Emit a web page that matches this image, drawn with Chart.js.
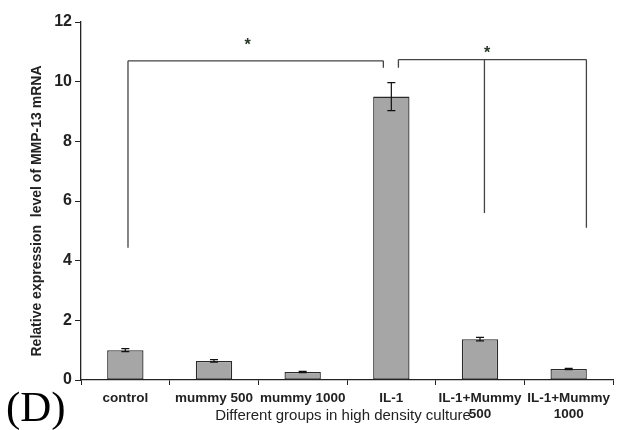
<!DOCTYPE html>
<html>
<head>
<meta charset="utf-8">
<script src="https://cdn.jsdelivr.net/npm/chart.js@4.4.1/dist/chart.umd.min.js"></script>
<style>
  html, body { margin: 0; padding: 0; background: #fff; }
  #wrap { width: 633px; height: 430px; }
</style>
</head>
<body>
<div id="wrap"><canvas id="mmpChart" width="633" height="430"></canvas></div>
<script>
// Data
const groups = ['control', 'mummy 500', 'mummy 1000', 'IL-1', ['IL-1+Mummy', '500'], ['IL-1+Mummy', '1000']];
const meanExpression = [1.0, 0.64, 0.27, 9.5, 1.37, 0.37];
const errorSD = [0.05, 0.04, 0.02, 0.47, 0.06, 0.02];
const yTickMax = 12;
const yTickStep = 2;

// Significance brackets (category index, value)
const bracketLeft = { top: 10.7, legs: [[0.03, 4.43], [2.91, 10.47]], star: [1.38, 11.3] };
const bracketRight = { top: 10.74, legs: [[3.08, 10.47], [4.05, 5.6], [5.2, 5.1]], star: [4.08, 11.04] };

const axisColor = '#222';

// category index (may be fractional) -> pixel
const xPix = (scale, v) => {
    const p0 = scale.getPixelForValue(0);
    const p1 = scale.getPixelForValue(1);
    return p0 + v * (p1 - p0);
};

// error bars, brackets, stars and free text
const extrasPlugin = {
    id: 'extras',
    afterDatasetsDraw(chart) {
        const ctx = chart.ctx;
        const x = chart.scales.x;
        const y = chart.scales.y;

        // error bars
        ctx.save();
        ctx.strokeStyle = '#111';
        ctx.lineWidth = 1.2;
        meanExpression.forEach((m, i) => {
            const cx = x.getPixelForValue(i);
            const yt = y.getPixelForValue(m + errorSD[i]);
            const yb = y.getPixelForValue(m - errorSD[i]);
            ctx.beginPath();
            ctx.moveTo(cx, yt); ctx.lineTo(cx, yb);
            ctx.moveTo(cx - 4, yt); ctx.lineTo(cx + 4, yt);
            ctx.moveTo(cx - 4, yb); ctx.lineTo(cx + 4, yb);
            ctx.stroke();
        });
        ctx.restore();

        // brackets
        ctx.save();
        ctx.strokeStyle = '#444';
        ctx.lineWidth = 1.3;
        [bracketLeft, bracketRight].forEach(b => {
            const yTop = y.getPixelForValue(b.top);
            const xs = b.legs.map(l => xPix(x, l[0]));
            ctx.beginPath();
            ctx.moveTo(Math.min(...xs), yTop);
            ctx.lineTo(Math.max(...xs), yTop);
            b.legs.forEach(l => {
                const lx = xPix(x, l[0]);
                ctx.moveTo(lx, yTop);
                ctx.lineTo(lx, y.getPixelForValue(l[1]));
            });
            ctx.stroke();
            // star
            ctx.fillStyle = '#263826';
            ctx.font = 'bold 16px "Liberation Sans", Arial, sans-serif';
            ctx.textAlign = 'center';
            ctx.textBaseline = 'middle';
            ctx.fillText('*', xPix(x, b.star[0]), y.getPixelForValue(b.star[1]) + 3);
        });
        ctx.restore();

        // axis titles
        ctx.save();
        ctx.fillStyle = '#222';
        ctx.font = '15px "Liberation Sans", Arial, sans-serif';
        ctx.textAlign = 'center';
        ctx.textBaseline = 'middle';
        ctx.fillText('Different groups in high density culture', (x.left + x.right) / 2 - 4, 416);

        ctx.translate(37, (y.top + y.bottom) / 2 + 10);
        ctx.rotate(-Math.PI / 2);
        ctx.font = 'bold 14px "Liberation Sans", Arial, sans-serif';
        ctx.fillText('Relative expression  level of MMP-13 mRNA', 0, 0);
        ctx.restore();

        // panel letter
        ctx.save();
        ctx.fillStyle = '#000';
        ctx.font = '43px "Liberation Serif", "Times New Roman", serif';
        ctx.textAlign = 'left';
        ctx.textBaseline = 'alphabetic';
        ctx.fillText('(D)', 6, 421);
        ctx.restore();
    }
};

new Chart(document.getElementById('mmpChart'), {
    type: 'bar',
    data: {
        labels: groups,
        datasets: [{
            data: meanExpression,
            backgroundColor: '#a6a6a6',
            borderColor: '#2a2a2a',
            borderWidth: 1.3,
            borderSkipped: false,
            categoryPercentage: 1,
            barPercentage: 0.41
        }]
    },
    options: {
        responsive: false,
        animation: false,
        devicePixelRatio: 1,
        layout: { padding: { top: 22, right: 20, left: 0, bottom: 0 } },
        plugins: {
            legend: { display: false },
            tooltip: { enabled: false }
        },
        scales: {
            x: {
                grid: {
                    offset: true,
                    drawOnChartArea: false,
                    drawTicks: true,
                    tickLength: 5,
                    color: axisColor
                },
                border: { display: true, color: axisColor, width: 1.3 },
                ticks: {
                    color: '#222',
                    padding: 5,
                    maxRotation: 0,
                    autoSkip: false,
                    font: { family: '"Liberation Sans", Arial, sans-serif', size: 13.5, weight: 'bold', lineHeight: 1.2 }
                },
                afterFit(scale) { scale.height = 50; }
            },
            y: {
                min: 0,
                max: yTickMax,
                grid: {
                    drawOnChartArea: false,
                    drawTicks: true,
                    tickLength: 6,
                    color: axisColor
                },
                border: { display: true, color: axisColor, width: 1.3 },
                ticks: {
                    stepSize: yTickStep,
                    color: '#222',
                    padding: 3,
                    font: { family: '"Liberation Sans", Arial, sans-serif', size: 16, weight: 'bold' }
                },
                afterFit(scale) { scale.width = 81; }
            }
        }
    },
    plugins: [extrasPlugin]
});
</script>
</body>
</html>
